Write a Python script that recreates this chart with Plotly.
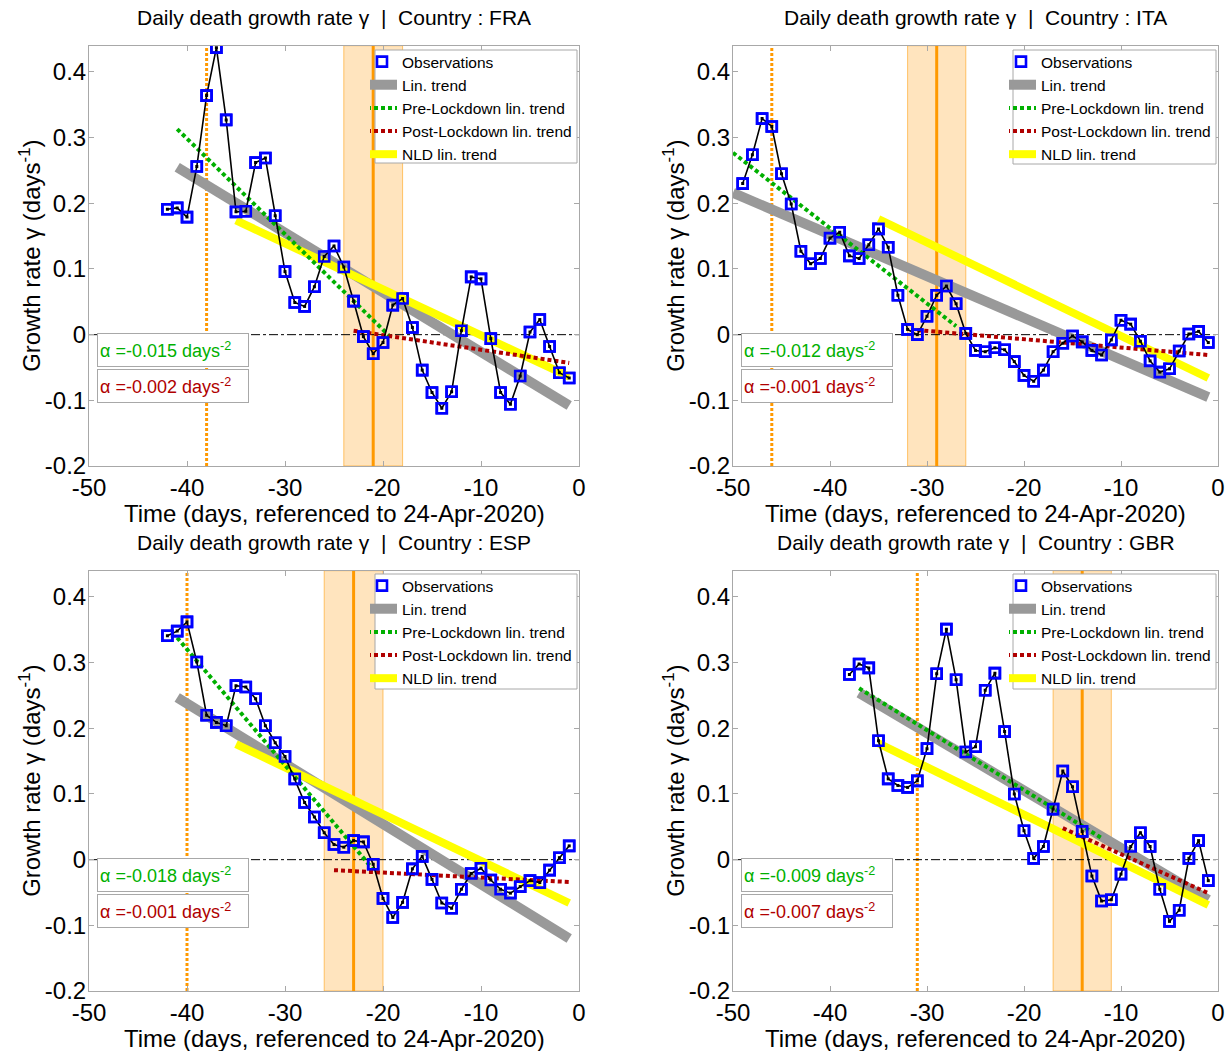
import plotly.graph_objects as go

FONT = "Liberation Sans, Arial, Helvetica, sans-serif"

# ---------------- data ----------------
FRA_DAYS = list(range(-42, 0))
FRA_GAMMA = [0.191, 0.193, 0.179, 0.256, 0.364, 0.437, 0.327, 0.187, 0.188, 0.262,
             0.269, 0.181, 0.096, 0.049, 0.043, 0.073, 0.119, 0.135, 0.103, 0.051,
             -0.003, -0.029, -0.012, 0.045, 0.055, 0.011, -0.054, -0.088, -0.112, -0.087,
             0.006, 0.088, 0.085, -0.006, -0.088, -0.106, -0.063, 0.004, 0.023, -0.018,
             -0.058, -0.066]

ITA_DAYS = list(range(-49, 0))
ITA_GAMMA = [0.230, 0.274, 0.329, 0.317, 0.245, 0.199, 0.127, 0.108, 0.116, 0.147,
             0.156, 0.120, 0.116, 0.137, 0.161, 0.133, 0.060, 0.008, 0.000, 0.028,
             0.060, 0.074, 0.047, 0.002, -0.024, -0.026, -0.020, -0.023, -0.041, -0.062,
             -0.071, -0.054, -0.026, -0.013, -0.002, -0.011, -0.024, -0.031, -0.008, 0.022,
             0.016, -0.010, -0.040, -0.057, -0.052, -0.025, 0.001, 0.005, -0.012]

ESP_DAYS = list(range(-42, 0))
ESP_GAMMA = [0.341, 0.348, 0.362, 0.301, 0.220, 0.209, 0.204, 0.265, 0.263, 0.245,
             0.204, 0.178, 0.157, 0.123, 0.087, 0.065, 0.041, 0.023, 0.019, 0.029,
             0.027, -0.007, -0.059, -0.088, -0.065, -0.014, 0.005, -0.030, -0.066, -0.074,
             -0.045, -0.021, -0.013, -0.031, -0.045, -0.051, -0.041, -0.032, -0.035, -0.016,
             0.003, 0.021]

GBR_DAYS = list(range(-38, 0))
GBR_GAMMA = [0.282, 0.298, 0.292, 0.181, 0.123, 0.113, 0.110, 0.120, 0.169, 0.283,
             0.351, 0.274, 0.164, 0.172, 0.258, 0.284, 0.195, 0.100, 0.044, 0.002,
             0.020, 0.077, 0.135, 0.111, 0.043, -0.025, -0.063, -0.061, -0.022, 0.020,
             0.041, 0.020, -0.045, -0.094, -0.077, 0.002, 0.029, -0.032]

# trend line end points (x: days, y: growth rate)
FRA_LIN_X, FRA_LIN_Y = [-41, -1], [0.255, -0.108]
FRA_PRE_X, FRA_PRE_Y = [-41, -19], [0.313, -0.007]
FRA_POST_X, FRA_POST_Y = [-23, -1], [0.006, -0.043]
FRA_NLD_X, FRA_NLD_Y = [-35, -1], [0.174, -0.064]

ITA_LIN_X, ITA_LIN_Y = [-50, -1], [0.216, -0.095]
ITA_PRE_X, ITA_PRE_Y = [-50, -27], [0.277, 0.013]
ITA_POST_X, ITA_POST_Y = [-31, -1], [0.007, -0.031]
ITA_NLD_X, ITA_NLD_Y = [-35, -1], [0.176, -0.066]

ESP_LIN_X, ESP_LIN_Y = [-41, -1], [0.247, -0.120]
ESP_PRE_X, ESP_PRE_Y = [-41, -21], [0.338, -0.015]
ESP_POST_X, ESP_POST_Y = [-25, -1], [-0.016, -0.034]
ESP_NLD_X, ESP_NLD_Y = [-35, -1], [0.176, -0.066]

GBR_LIN_X, GBR_LIN_Y = [-37, -1], [0.254, -0.061]
GBR_PRE_X, GBR_PRE_Y = [-37, -12], [0.261, 0.033]
GBR_POST_X, GBR_POST_Y = [-16, -1], [0.048, -0.051]
GBR_NLD_X, GBR_NLD_Y = [-35, -1], [0.177, -0.069]

# lockdown day, lockdown+17 day and its +/-3 day band
LOCKDOWN_DAY = {"FRA": -38, "ITA": -46, "ESP": -40, "GBR": -31}
PEAK_DAY = {"FRA": -21, "ITA": -29, "ESP": -23, "GBR": -14}
BAND = {"FRA": [-24, -18], "ITA": [-32, -26], "ESP": [-26, -20], "GBR": [-17, -11]}

ALPHA_PRE = {"FRA": "-0.015", "ITA": "-0.012", "ESP": "-0.018", "GBR": "-0.009"}
ALPHA_POST = {"FRA": "-0.002", "ITA": "-0.001", "ESP": "-0.001", "GBR": "-0.007"}

X_TICKS = [-50, -40, -30, -20, -10, 0]
X_TICK_LABELS = ["-50", "-40", "-30", "-20", "-10", "0"]
Y_TICKS = [-0.2, -0.1, 0, 0.1, 0.2, 0.3, 0.4]
Y_TICK_LABELS = ["-0.2", "-0.1", "0", "0.1", "0.2", "0.3", "0.4"]

PANELS = [
    ("FRA", FRA_DAYS, FRA_GAMMA, FRA_LIN_X, FRA_LIN_Y, FRA_PRE_X, FRA_PRE_Y, FRA_POST_X, FRA_POST_Y, FRA_NLD_X, FRA_NLD_Y),
    ("ITA", ITA_DAYS, ITA_GAMMA, ITA_LIN_X, ITA_LIN_Y, ITA_PRE_X, ITA_PRE_Y, ITA_POST_X, ITA_POST_Y, ITA_NLD_X, ITA_NLD_Y),
    ("ESP", ESP_DAYS, ESP_GAMMA, ESP_LIN_X, ESP_LIN_Y, ESP_PRE_X, ESP_PRE_Y, ESP_POST_X, ESP_POST_Y, ESP_NLD_X, ESP_NLD_Y),
    ("GBR", GBR_DAYS, GBR_GAMMA, GBR_LIN_X, GBR_LIN_Y, GBR_PRE_X, GBR_PRE_Y, GBR_POST_X, GBR_POST_Y, GBR_NLD_X, GBR_NLD_Y),
]

# ---------------- layout geometry ----------------
W, H = 1227, 1051
DOM_X = [[89 / W, 579 / W], [733 / W, 1218 / W], [89 / W, 579 / W], [733 / W, 1218 / W]]
DOM_Y = [[1 - 466 / H, 1 - 45.7 / H], [1 - 466 / H, 1 - 45.7 / H],
         [1 - 991 / H, 1 - 570.7 / H], [1 - 991 / H, 1 - 570.7 / H]]
# legend frames (pixel boxes: left, top, right, bottom)
LEG_BOX = [(375, 50, 577, 163), (1013, 50, 1216, 164),
           (375, 574, 577, 689), (1013, 574, 1216, 689)]

GRAY = "#999999"
YELLOW = "#FFFF00"
GREEN = "#00B000"
RED = "#B00000"
ORANGE = "#FF9900"
BAND_FILL = "rgb(255,228,190)"
AXIS_COLOR = "#A8A8A8"

fig = go.Figure()
shapes = []
annotations = []
layout_extra = {}

for i, (code, days, gamma, lx, ly, px_, py_, qx, qy, nx, ny) in enumerate(PANELS):
    sfx = "" if i == 0 else str(i + 1)
    xa, ya = "x" + sfx, "y" + sfx
    leg = "legend" + sfx

    common = dict(xaxis=xa, yaxis=ya, legend=leg)
    # observations markers (legend entry)
    fig.add_trace(go.Scatter(x=days, y=gamma, mode="markers", name="Observations",
                             marker=dict(symbol="square-open", size=10, color="#0000FF",
                                         line=dict(width=2.6, color="#0000FF")),
                             showlegend=True, **common))
    # trend lines
    fig.add_trace(go.Scatter(x=lx, y=ly, mode="lines", name="Lin. trend",
                             line=dict(color=GRAY, width=10), showlegend=True, **common))
    fig.add_trace(go.Scatter(x=nx, y=ny, mode="lines", name="NLD lin. trend",
                             line=dict(color=YELLOW, width=8), showlegend=True,
                             legendrank=1005, **common))
    fig.add_trace(go.Scatter(x=px_, y=py_, mode="lines", name="Pre-Lockdown lin. trend",
                             line=dict(color=GREEN, width=4, dash="4px,3px"),
                             showlegend=True, legendrank=1002, **common))
    fig.add_trace(go.Scatter(x=qx, y=qy, mode="lines", name="Post-Lockdown lin. trend",
                             line=dict(color=RED, width=4, dash="4px,3px"),
                             showlegend=True, legendrank=1003, **common))
    # observation connecting line on top
    fig.add_trace(go.Scatter(x=days, y=gamma, mode="lines+markers", name="obs line",
                             line=dict(color="black", width=1.6),
                             marker=dict(symbol="square", size=3, color="black"),
                             showlegend=False, **common))
    # re-draw markers above the line
    fig.add_trace(go.Scatter(x=days, y=gamma, mode="markers", name="obs top",
                             marker=dict(symbol="square-open", size=10, color="#0000FF",
                                         line=dict(width=2.6, color="#0000FF")),
                             showlegend=False, **common))

    axis_common = dict(showline=True, linecolor=AXIS_COLOR, linewidth=1, mirror="ticks",
                       ticks="inside", ticklen=5, tickcolor=AXIS_COLOR, tickwidth=1,
                       showgrid=False, zeroline=False, automargin=False,
                       tickfont=dict(family=FONT, size=24, color="black"))
    layout_extra["xaxis" + sfx] = dict(domain=DOM_X[i], range=[-50, 0], anchor=ya,
                                      tickvals=X_TICKS, ticktext=X_TICK_LABELS, **axis_common)
    layout_extra["yaxis" + sfx] = dict(domain=DOM_Y[i], range=[-0.2, 0.44], anchor=xa,
                                      tickvals=Y_TICKS, ticktext=Y_TICK_LABELS,
                                      ticklabelstandoff=-3, **axis_common)
    bl, bt, br, bb = LEG_BOX[i]
    # legend frame drawn as a white box above the data
    shapes.append(dict(type="rect", xref="paper", yref="paper",
                       x0=bl / W, x1=br / W, y0=1 - bb / H, y1=1 - bt / H,
                       fillcolor="white", line=dict(color=AXIS_COLOR, width=1), layer="above"))
    layout_extra[leg] = dict(x=br / W, y=1 - (bt - 5) / H, xanchor="right", yanchor="top",
                             bgcolor="rgba(0,0,0,0)", borderwidth=0,
                             font=dict(family=FONT, size=15.5, color="black"),
                             itemwidth=30, tracegroupgap=0, traceorder="normal",
                             indentation=-8)

    xd, yd = xa + " domain", ya + " domain"
    # shaded band and vertical lines
    b0, b1 = BAND[code]
    shapes.append(dict(type="rect", xref=xa, yref=yd, x0=b0, x1=b1, y0=0, y1=1,
                       fillcolor=BAND_FILL, line=dict(color="rgba(255,153,0,0.55)", width=1),
                       layer="below"))
    shapes.append(dict(type="line", xref=xa, yref=yd, x0=PEAK_DAY[code], x1=PEAK_DAY[code],
                       y0=0, y1=1, line=dict(color=ORANGE, width=3), layer="below"))
    shapes.append(dict(type="line", xref=xa, yref=yd, x0=LOCKDOWN_DAY[code], x1=LOCKDOWN_DAY[code],
                       y0=0, y1=1, line=dict(color=ORANGE, width=3, dash="3px,2px"), layer="below"))
    # zero line
    shapes.append(dict(type="line", xref=xd, yref=ya, x0=0, x1=1, y0=0, y1=0,
                       line=dict(color="black", width=1, dash="dashdot"), layer="below"))

    # title
    annotations.append(dict(text="Daily death growth rate γ\u00a0 |\u00a0 Country : " + code,
                            xref=xd, yref=yd, x=0.5, y=1, yshift=28, xanchor="center",
                            yanchor="middle", showarrow=False,
                            font=dict(family=FONT, size=21, color="black")))
    # axis titles
    annotations.append(dict(text="Time (days, referenced to 24-Apr-2020)",
                            xref=xd, yref=yd, x=0.5, y=0, yshift=-47, xanchor="center",
                            yanchor="middle", showarrow=False,
                            font=dict(family=FONT, size=24, color="black")))
    annotations.append(dict(text="Growth rate γ (days<sup>-1</sup>)",
                            xref=xd, yref=yd, x=0, y=0.5, xshift=-59, xanchor="center",
                            yanchor="middle", textangle=-90, showarrow=False,
                            font=dict(family=FONT, size=24, color="black")))
    # alpha boxes
    for txt, col, ytop in ((ALPHA_PRE[code], GREEN, 0.3164), (ALPHA_POST[code], RED, 0.2308)):
        annotations.append(dict(text="α =" + txt + " days<sup>-2</sup>",
                                xref=xd, yref=yd, x=0.0163, y=ytop, xanchor="left",
                                yanchor="top", showarrow=False, align="left",
                                width=146, height=28, borderpad=2,
                                bgcolor="white", bordercolor=AXIS_COLOR, borderwidth=1,
                                font=dict(family=FONT, size=18, color=col)))

fig.update_layout(width=W, height=H, margin=dict(l=0, r=0, t=0, b=0, pad=0, autoexpand=False),
                  paper_bgcolor="white", plot_bgcolor="white",
                  shapes=shapes, annotations=annotations,
                  font=dict(family=FONT, color="black"), **layout_extra)

fig.write_html("out.html", config={"displayModeBar": False},
               post_script="document.body.style.margin='0';"
                           "document.body.style.overflow='hidden';"
                           "document.documentElement.style.overflow='hidden';")
